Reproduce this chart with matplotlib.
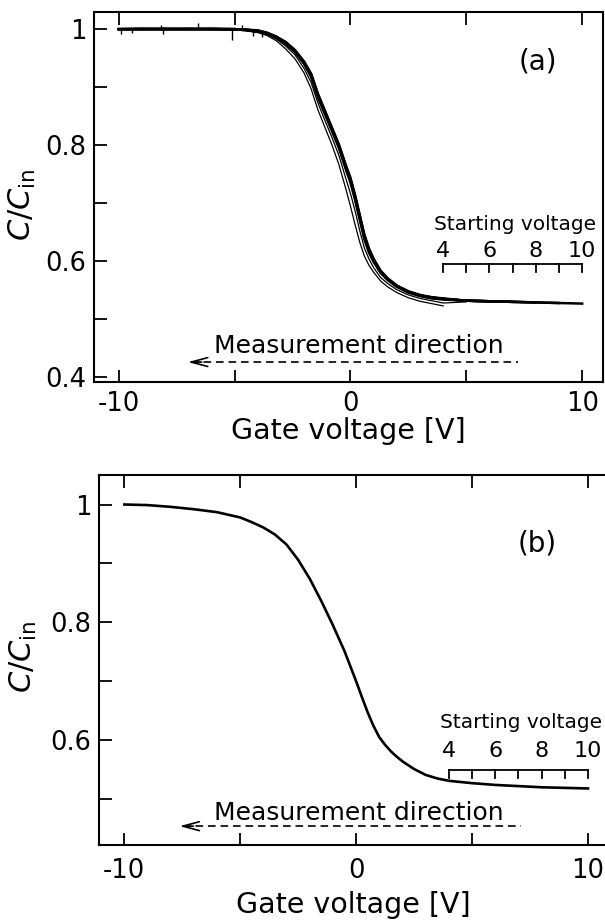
import matplotlib
matplotlib.use('Agg')
import matplotlib.pyplot as plt
from matplotlib.ticker import FixedLocator, FixedFormatter

plt.rcParams['font.family'] = ['DejaVu Sans']
plt.rcParams['axes.unicode_minus'] = False
plt.rcParams['lines.scale_dashes'] = False
plt.rcParams['mathtext.fontset'] = 'dejavusans'

# ---------------- data ----------------
# panel (a): gate voltage grid and C/Cin for each starting voltage
gate_a = [-10, -9, -8, -7, -6, -5, -4.5, -4, -3.6, -3.2, -2.8, -2.4,
          -2.0, -1.7, -1.4, -1.1, -0.8, -0.5, -0.2, 0.0, 0.2, 0.4, 0.6, 0.8,
          1.0, 1.3, 1.6, 2.0, 2.5, 3.0, 3.5, 4.0, 5.0, 6.0, 7.0, 8.0, 9.0, 10.0]

ratio_a_v10 = [1.000, 1.000, 1.001, 1.000, 1.001, 1.000, 0.999, 0.997, 0.993, 0.986, 0.976, 0.962,
               0.941, 0.920, 0.884, 0.855, 0.826, 0.797, 0.760, 0.738, 0.708, 0.674, 0.640, 0.617,
               0.600, 0.580, 0.568, 0.556, 0.546, 0.540, 0.537, 0.535, 0.531, 0.530, 0.529, 0.528,
               0.527, 0.526]
ratio_a_v9 = [1.000, 1.001, 1.000, 1.000, 1.000, 1.000, 0.999, 0.998, 0.994, 0.987, 0.978, 0.964,
              0.944, 0.923, 0.888, 0.859, 0.830, 0.801, 0.765, 0.743, 0.713, 0.679, 0.645, 0.621,
              0.603, 0.583, 0.570, 0.557, 0.547, 0.540, 0.536, 0.534, 0.531, 0.530, 0.529, 0.528,
              0.527]
ratio_a_v8 = [1.000, 1.000, 1.000, 1.001, 1.000, 0.999, 0.999, 0.997, 0.993, 0.987, 0.977, 0.963,
              0.943, 0.922, 0.886, 0.857, 0.828, 0.799, 0.763, 0.741, 0.711, 0.677, 0.643, 0.619,
              0.602, 0.582, 0.569, 0.557, 0.547, 0.541, 0.537, 0.534, 0.531, 0.530, 0.529, 0.528]
ratio_a_v7 = [1.000, 1.000, 1.000, 1.000, 1.000, 1.000, 0.998, 0.996, 0.992, 0.985, 0.975, 0.961,
              0.940, 0.918, 0.882, 0.853, 0.824, 0.795, 0.758, 0.735, 0.705, 0.671, 0.637, 0.614,
              0.598, 0.579, 0.567, 0.555, 0.545, 0.539, 0.535, 0.533, 0.531, 0.530, 0.529]
ratio_a_v6 = [1.000, 1.000, 1.000, 1.000, 1.000, 1.000, 0.999, 0.997, 0.993, 0.986, 0.976, 0.962,
              0.942, 0.921, 0.885, 0.856, 0.827, 0.798, 0.762, 0.740, 0.710, 0.676, 0.642, 0.618,
              0.601, 0.581, 0.568, 0.556, 0.546, 0.540, 0.536, 0.534, 0.531, 0.530]
ratio_a_v5 = [1.000, 1.000, 1.000, 1.000, 1.000, 0.999, 0.998, 0.995, 0.991, 0.983, 0.971, 0.956,
              0.932, 0.908, 0.872, 0.842, 0.813, 0.782, 0.742, 0.716, 0.686, 0.652, 0.622, 0.603,
              0.588, 0.571, 0.561, 0.550, 0.541, 0.535, 0.531, 0.527, 0.529]
ratio_a_v4 = [1.000, 1.000, 1.000, 1.000, 1.000, 0.999, 0.997, 0.994, 0.989, 0.980, 0.966, 0.949,
              0.924, 0.897, 0.860, 0.830, 0.800, 0.766, 0.724, 0.694, 0.662, 0.632, 0.608, 0.592,
              0.580, 0.565, 0.555, 0.545, 0.536, 0.530, 0.526, 0.522]

# noise spikes on the flat part of panel (a): position, base and tip
spike_a_gate = [-9.9, -9.45, -8.2, -8.1, -6.6, -5.1, -4.7, -4.2, -3.8]
spike_a_base = [1.000, 1.000, 1.000, 1.000, 1.000, 1.000, 0.999, 0.997, 0.994]
spike_a_tip = [0.991, 0.993, 1.007, 0.992, 1.010, 0.982, 1.007, 0.989, 0.987]

# panel (b): curves for all starting voltages coincide
gate_b = [-10, -9, -8, -7, -6, -5, -4.5, -4, -3.5, -3, -2.5, -2, -1.5, -1, -0.5,
          0, 0.25, 0.5, 0.75, 1.0, 1.25, 1.5, 1.75, 2.0, 2.5, 3, 3.5, 4, 5, 6, 7, 8, 9, 10]
ratio_b = [1.000, 0.999, 0.996, 0.992, 0.987, 0.978, 0.970, 0.961, 0.949, 0.932, 0.906,
           0.874, 0.836, 0.795, 0.751, 0.700, 0.673, 0.647, 0.624, 0.605, 0.592, 0.581,
           0.572, 0.564, 0.551, 0.541, 0.535, 0.531, 0.527, 0.524, 0.522, 0.520, 0.519, 0.518]

# ticks / labels
x_ticks = [-10, -5, 0, 5, 10]
x_tick_labels = ['-10', '', '0', '', '10']
y_ticks_a = [0.4, 0.6, 0.8, 1.0]
y_tick_labels_a = ['0.4', '0.6', '0.8', '1']
y_minor_a = [0.5, 0.7, 0.9]
y_ticks_b = [0.6, 0.8, 1.0]
y_tick_labels_b = ['0.6', '0.8', '1']
y_minor_b = [0.5, 0.7, 0.9]
start_scale_ticks = [4, 5, 6, 7, 8, 9, 10]
start_scale_labels = [4, 6, 8, 10]

# ---------------- figure ----------------
fig = plt.figure(figsize=(6.05, 9.21), dpi=100)
ax_a = fig.add_axes([0.1550, 0.5855, 0.8425, 0.4017])
ax_b = fig.add_axes([0.1633, 0.0825, 0.8430, 0.4017])


def style(ax, xlim, ylim, yt, ytl, ym, xpad):
    ax.set_xlim(*xlim)
    ax.set_ylim(*ylim)
    ax.xaxis.set_major_locator(FixedLocator(x_ticks))
    ax.xaxis.set_major_formatter(FixedFormatter(x_tick_labels))
    ax.yaxis.set_major_locator(FixedLocator(yt))
    ax.yaxis.set_major_formatter(FixedFormatter(ytl))
    ax.yaxis.set_minor_locator(FixedLocator(ym))
    ax.tick_params(which='both', direction='in', length=9, width=1.3,
                   top=True, right=False, labelsize=18.5, color='black')
    ax.tick_params(axis='x', pad=xpad)
    ax.tick_params(axis='y', pad=5.5)
    for s in ax.spines.values():
        s.set_linewidth(1.5)


# panel (a)
style(ax_a, (-11.08, 10.92), (0.391, 1.030), y_ticks_a, y_tick_labels_a, y_minor_a, 7)
thick = [(10, ratio_a_v10), (9, ratio_a_v9), (8, ratio_a_v8), (7, ratio_a_v7), (6, ratio_a_v6)]
thin = [(5, ratio_a_v5), (4, ratio_a_v4)]
for v, r in thin:
    ax_a.plot(gate_a[:len(r)], r, color='black', lw=0.9)
for v, r in thick:
    ax_a.plot(gate_a[:len(r)], r, color='black', lw=1.8)
ax_a.vlines(spike_a_gate, spike_a_base, spike_a_tip, color='black', lw=1.0)

# panel (b)
style(ax_b, (-11.1, 10.9), (0.422, 1.050), y_ticks_b, y_tick_labels_b, y_minor_b, 9)
ax_b.plot(gate_b, ratio_b, color='black', lw=1.9)

for ax, lab, ylc, xlc, lab_xy, sv_y, num_y, bar_y, bar_lo, md_xy, arr in [
        (ax_a, '(a)', (-0.109, 0.478), -0.095, (8.08, 0.944), 0.653, 0.607, 0.5946, 0.581,
         (0.37, 0.441), (-7.02, 7.24, 0.425)),
        (ax_b, '(b)', (-0.118, 0.508), -0.124, (7.8, 0.934), 0.620, 0.5715, 0.550, 0.5365,
         (0.13, 0.464), (-7.62, 7.12, 0.454))]:
    ax.set_ylabel(r'$C/C_{\rm in}$', fontsize=22)
    ax.yaxis.set_label_coords(*ylc)
    ax.set_xlabel('Gate voltage [V]', fontsize=20.5)
    ax.xaxis.set_label_coords(0.5, xlc)
    ax.text(lab_xy[0], lab_xy[1], lab, fontsize=20, ha='center', va='center')
    # starting voltage scale
    ax.text(7.1, sv_y, 'Starting voltage', fontsize=14.5, ha='center', va='baseline')
    for n in start_scale_labels:
        ax.text(n, num_y, str(n), fontsize=16, ha='center', va='baseline')
    ax.plot([start_scale_ticks[0], start_scale_ticks[-1]], [bar_y, bar_y], color='black', lw=1.3)
    for t in start_scale_ticks:
        ax.plot([t, t], [bar_y, bar_lo], color='black', lw=1.3)
    # measurement direction
    ax.text(md_xy[0], md_xy[1], 'Measurement direction', fontsize=18, ha='center', va='baseline')
    x_tip, x_end, y_arr = arr
    ax.plot([x_tip + 0.15, x_end], [y_arr, y_arr], color='black', lw=1.2, dashes=(5.5, 3.5))
    ax.annotate('', xy=(x_tip, y_arr), xytext=(x_tip + 0.6, y_arr),
                arrowprops=dict(arrowstyle='->,head_length=1.2,head_width=0.32',
                                lw=1.2, color='black', shrinkA=0, shrinkB=0))

fig.savefig('out.png', dpi=100)
